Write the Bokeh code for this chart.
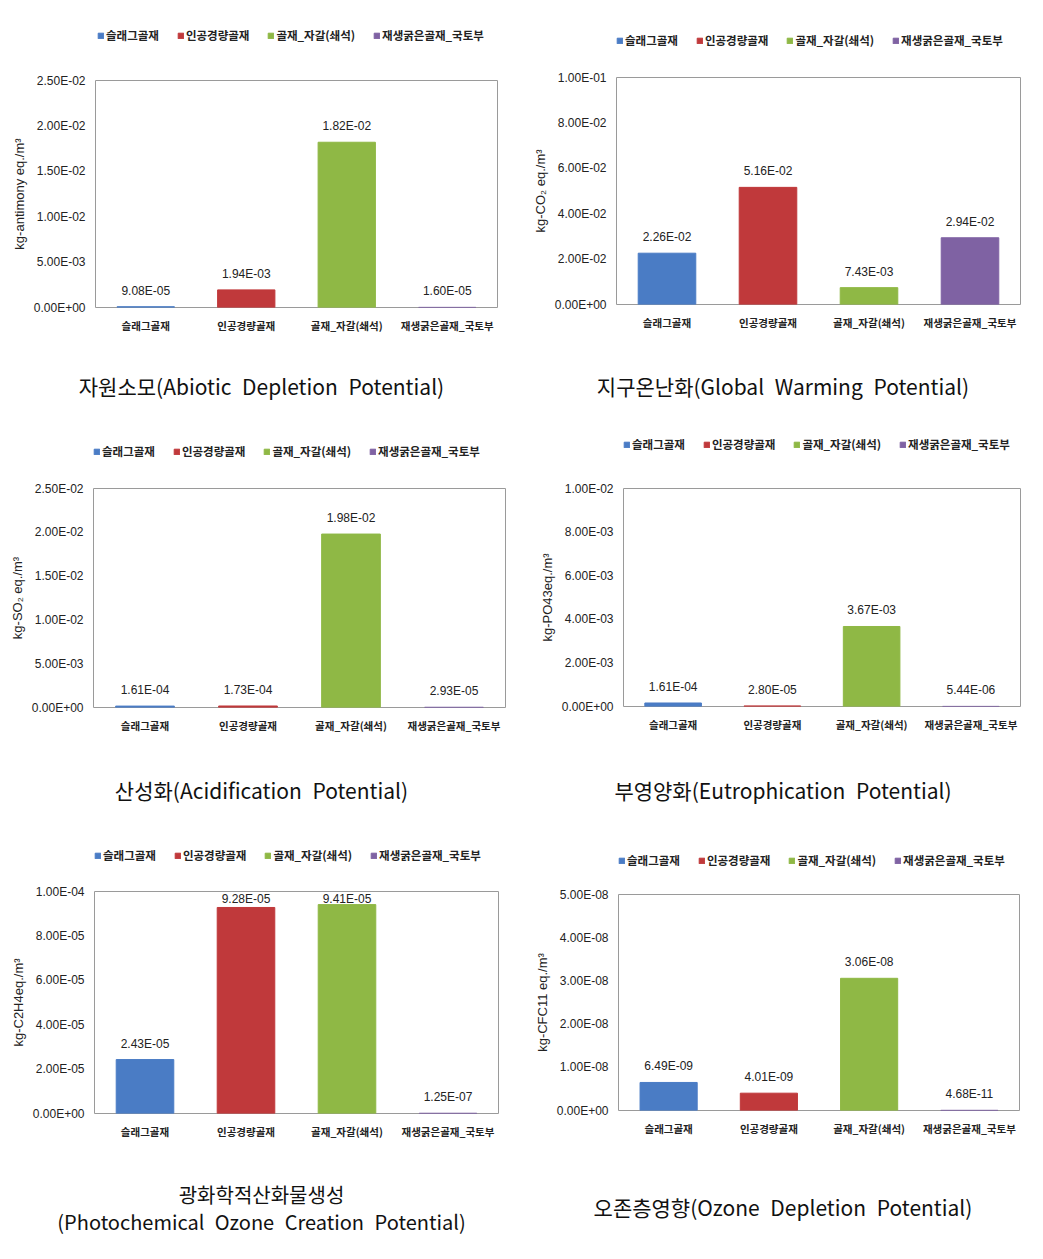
from bokeh.plotting import figure
from bokeh.layouts import column, row
from bokeh.models import ColumnDataSource, FixedTicker, Range1d, Div, Legend, LegendItem
from bokeh.core.properties import value
from bokeh.embed import file_html
from bokeh.resources import INLINE

# ---------------- data ----------------
categories = ["슬래그골재", "인공경량골재", "골재_자갈(쇄석)", "재생굵은골재_국토부"]
colors = ["#4a7cc5", "#c0393b", "#8fb845", "#7f62a3"]

adp_values = [9.08e-5, 1.94e-3, 1.82e-2, 1.60e-5]
gwp_values = [2.26e-2, 5.16e-2, 7.43e-3, 2.94e-2]
ap_values = [1.61e-4, 1.73e-4, 1.98e-2, 2.93e-5]
ep_values = [1.61e-4, 2.80e-5, 3.67e-3, 5.44e-6]
pocp_values = [2.43e-5, 9.28e-5, 9.41e-5, 1.25e-7]
odp_values = [6.49e-9, 4.01e-9, 3.06e-8, 4.68e-11]

adp_ticks = [0, 5e-3, 1e-2, 1.5e-2, 2e-2, 2.5e-2]
adp_tick_labels = ["0.00E+00", "5.00E-03", "1.00E-02", "1.50E-02", "2.00E-02", "2.50E-02"]
gwp_ticks = [0, 2e-2, 4e-2, 6e-2, 8e-2, 1e-1]
gwp_tick_labels = ["0.00E+00", "2.00E-02", "4.00E-02", "6.00E-02", "8.00E-02", "1.00E-01"]
ap_ticks = [0, 5e-3, 1e-2, 1.5e-2, 2e-2, 2.5e-2]
ap_tick_labels = ["0.00E+00", "5.00E-03", "1.00E-02", "1.50E-02", "2.00E-02", "2.50E-02"]
ep_ticks = [0, 2e-3, 4e-3, 6e-3, 8e-3, 1e-2]
ep_tick_labels = ["0.00E+00", "2.00E-03", "4.00E-03", "6.00E-03", "8.00E-03", "1.00E-02"]
pocp_ticks = [0, 2e-5, 4e-5, 6e-5, 8e-5, 1e-4]
pocp_tick_labels = ["0.00E+00", "2.00E-05", "4.00E-05", "6.00E-05", "8.00E-05", "1.00E-04"]
odp_ticks = [0, 1e-8, 2e-8, 3e-8, 4e-8, 5e-8]
odp_tick_labels = ["0.00E+00", "1.00E-08", "2.00E-08", "3.00E-08", "4.00E-08", "5.00E-08"]

y_axis_labels = ["kg-antimony eq./m³", "kg-CO₂ eq./m³", "kg-SO₂ eq./m³",
                 "kg-PO43eq./m³", "kg-C2H4eq./m³", "kg-CFC11 eq./m³"]

titles = [
    ("자원소모", "(Abiotic Depletion Potential)"),
    ("지구온난화", "(Global Warming Potential)"),
    ("산성화", "(Acidification Potential)"),
    ("부영양화", "(Eutrophication Potential)"),
    ("광화학적산화물생성", "(Photochemical Ozone Creation Potential)"),
    ("오존층영향", "(Ozone Depletion Potential)"),
]

series = [
    (adp_values, adp_ticks, adp_tick_labels),
    (gwp_values, gwp_ticks, gwp_tick_labels),
    (ap_values, ap_ticks, ap_tick_labels),
    (ep_values, ep_ticks, ep_tick_labels),
    (pocp_values, pocp_ticks, pocp_tick_labels),
    (odp_values, odp_ticks, odp_tick_labels),
]

# ---------------- geometry (page px) ----------------
# origin (x,y), size (w,h), frame (l,t,r,b), legend start (x, center y)
geom = [
    ((0, 0), (523, 350), (95, 80, 497, 307), (97, 35)),
    ((523, 0), (520, 350), (616, 77, 1020, 304), (612, 40)),
    ((0, 420), (523, 332), (93, 488, 505, 707), (93, 451)),
    ((523, 420), (520, 332), (623, 488, 1020, 706), (623, 444)),
    ((0, 830), (523, 320), (94, 891, 498, 1113), (94, 855)),
    ((523, 830), (520, 320), (618, 894, 1019, 1110), (618, 860)),
]

KR = "Noto Sans CJK KR"
LAT = "Liberation Sans"
LEG_H = 16
TOP_PAD = 12


def make_cell(i):
    vals, ticks, tick_labels = series[i]
    (ox, oy), (w, h), (fl, ft, fr, fb), (lx, ly) = geom[i]
    ymax = ticks[-1]
    fh = fb - ft
    clamp = ymax * (1 - 23.0 / fh)  # keep labels inside the plot area near the top
    src = ColumnDataSource(dict(
        cat=categories, val=vals, color=colors,
        lbl=[f"{v:.2E}" for v in vals],
        lbl_y=[min(v, clamp) for v in vals],
    ))

    # ---- legend strip (frame aligned with the chart frame) ----
    lh = ft - oy - TOP_PAD
    lf = figure(width=w, height=lh, x_range=Range1d(0, 1), y_range=Range1d(0, 1),
                output_backend="svg", toolbar_location=None,
                min_border_left=fl - ox, min_border_right=ox + w - fr,
                min_border_top=0, min_border_bottom=0)
    lf.axis.visible = False
    lf.grid.visible = False
    lf.outline_line_color = None
    lsrc = ColumnDataSource(dict(x=[-50, -50, -50, -50], top=[-50, -50, -50, -50],
                                 bottom=[-51, -51, -51, -51], color=colors))
    lr = lf.vbar(x="x", top="top", bottom="bottom", width=0.5, color="color", source=lsrc)
    items = [LegendItem(label=c, renderers=[lr], index=k) for k, c in enumerate(categories)]
    lg = Legend(items=items, orientation="horizontal",
                location=(max(lx - fl, 0), lh - (ly - oy) - LEG_H // 2))
    lg.background_fill_alpha = 0
    lg.border_line_color = None
    lg.padding = 0
    lg.margin = 0
    lg.spacing = 18
    lg.glyph_width = 7
    lg.glyph_height = 7
    lg.label_standoff = 2
    lg.label_height = LEG_H
    lg.label_text_font = KR
    lg.label_text_font_style = "bold"
    lg.label_text_font_size = "11.5px"
    lg.label_text_color = "#222222"
    lg.label_text_baseline = "middle"
    lf.add_layout(lg)

    # ---- chart ----
    ch = h - lh
    p = figure(x_range=categories, y_range=Range1d(ticks[0], ymax),
               width=w, height=ch, output_backend="svg", toolbar_location=None,
               min_border_left=fl - ox, min_border_right=ox + w - fr,
               min_border_top=TOP_PAD, min_border_bottom=oy + h - fb)
    p.vbar(x="cat", top="val", width=0.57, color="color", source=src)
    p.text(x="cat", y="lbl_y", text="lbl", source=src, text_align="center",
           text_baseline="middle", y_offset=-16, text_font=value(LAT),
           text_font_size="12px", text_color="#222222")

    p.xgrid.visible = False
    p.ygrid.visible = False
    p.outline_line_color = "#9a9a9a"

    ya = p.yaxis[0]
    ya.ticker = FixedTicker(ticks=ticks)
    ya.major_label_overrides = {t: s for t, s in zip(ticks, tick_labels)}
    ya.axis_line_color = None
    ya.major_tick_line_color = None
    ya.minor_tick_line_color = None
    ya.major_tick_out = 0
    ya.major_label_standoff = 10
    ya.major_label_text_font = LAT
    ya.major_label_text_font_size = "12px"
    ya.major_label_text_color = "#222222"
    ya.axis_label = y_axis_labels[i]
    ya.axis_label_text_font = LAT
    ya.axis_label_text_font_style = "normal"
    ya.axis_label_text_font_size = "13px"
    ya.axis_label_text_color = "#222222"
    ya.axis_label_standoff = 4

    xa = p.xaxis[0]
    xa.axis_line_color = None
    xa.major_tick_line_color = None
    xa.major_tick_out = 0
    xa.major_label_standoff = 10
    xa.major_label_text_font = KR
    xa.major_label_text_font_style = "bold"
    xa.major_label_text_font_size = "10.5px"
    xa.major_label_text_color = "#222222"

    return column(lf, p, spacing=0)


def make_title(i, width, height, pad_top):
    kr, en = titles[i]
    if i == 4:
        body = (f"<div style='height:27px;line-height:27px'>{kr}</div>"
                f"<div style='height:27px;line-height:27px'>{en}</div>")
        fs = 20
    else:
        body = f"<div style='line-height:27px'>{kr}{en}</div>"
        fs = 21
    html = (f"<div style=\"width:{width}px;height:{height}px;box-sizing:border-box;"
            f"padding-top:{pad_top}px;text-align:center;font-family:'{KR}';"
            f"font-size:{fs}px;color:#111;word-spacing:6px;\">"
            f"{body}</div>")
    return Div(text=html, width=width, height=height, margin=0)


cells = [make_cell(i) for i in range(6)]

layout = column(
    row(cells[0], cells[1], spacing=0),
    row(make_title(0, 523, 70, 23), make_title(1, 520, 70, 23), spacing=0),
    row(cells[2], cells[3], spacing=0),
    row(make_title(2, 523, 78, 25), make_title(3, 520, 78, 25), spacing=0),
    row(cells[4], cells[5], spacing=0),
    row(make_title(4, 523, 95, 31), make_title(5, 520, 95, 44), spacing=0),
    spacing=0,
)

open("out.html", "w").write(file_html(layout, INLINE))
